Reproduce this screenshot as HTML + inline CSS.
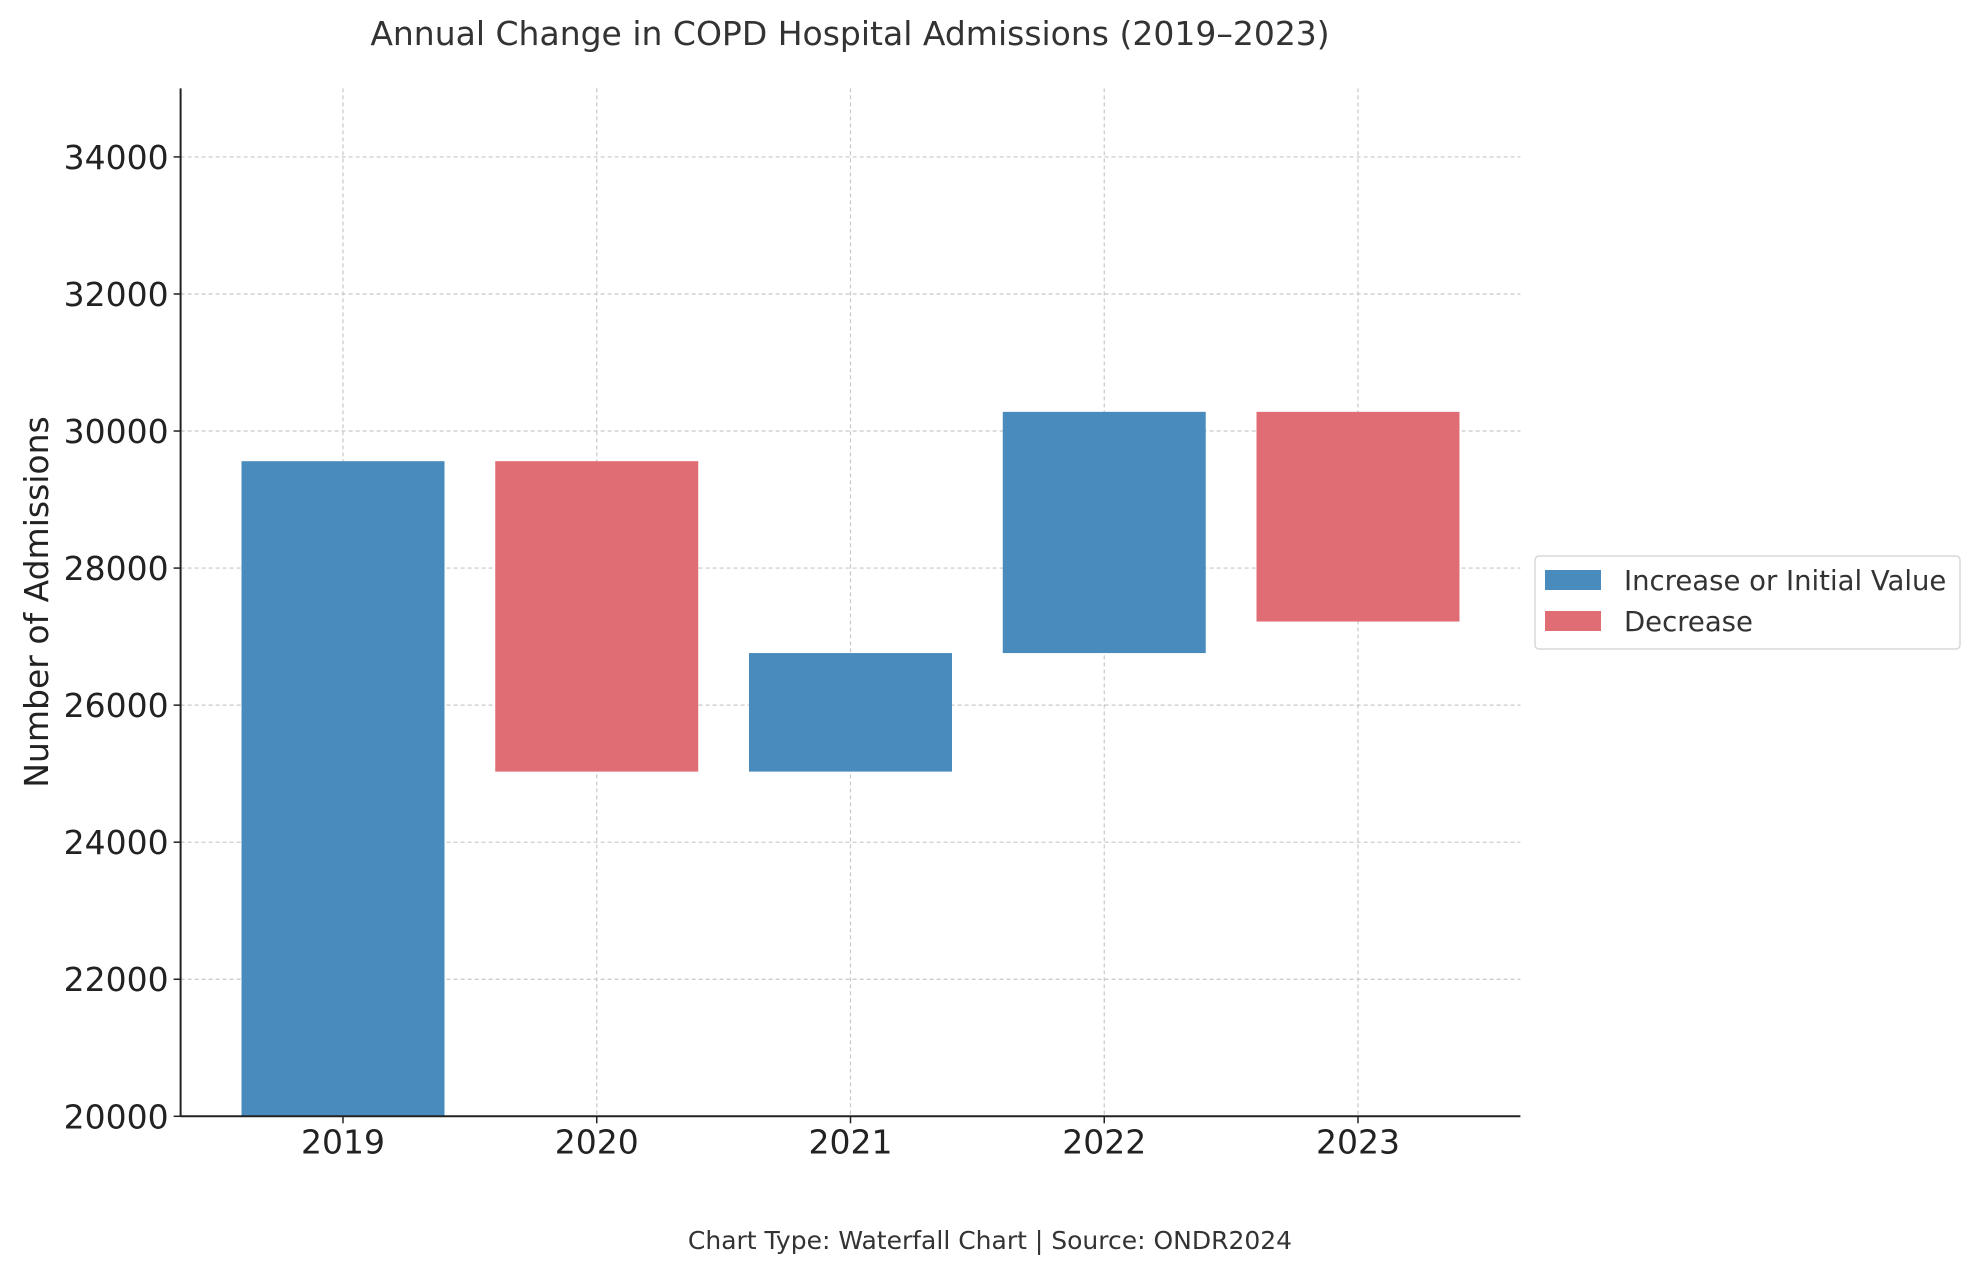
<!DOCTYPE html>
<html><head><meta charset="utf-8"><style>
html,body{margin:0;padding:0;background:#fff;}
svg{display:block;font-family:"DejaVu Sans","Liberation Sans",sans-serif;}
</style></head><body>
<svg id="chart" width="1980" height="1276" viewBox="0 0 1980 1276" xmlns="http://www.w3.org/2000/svg">
<text x="850" y="45" font-size="33" fill="#333" text-anchor="middle">Annual Change in COPD Hospital Admissions (2019–2023)</text>
<g id="grid"></g>
<g id="bars"></g>
<g id="axes"></g>
<text transform="translate(48,602) rotate(-90)" font-size="33" fill="#222" text-anchor="middle">Number of Admissions</text>
<g>
<rect x="1535" y="556" width="425" height="93" rx="4" fill="#fff" stroke="#d8d8d8" stroke-width="1.5"/>
<rect x="1545" y="570" width="56" height="20" fill="#4a8bbe"/>
<text x="1624" y="590" font-size="27.5" fill="#333">Increase or Initial Value</text>
<rect x="1545" y="611" width="56" height="20" fill="#e06c74"/>
<text x="1624" y="631" font-size="27.5" fill="#333">Decrease</text>
</g>
<text x="990" y="1249" font-size="25" fill="#333" text-anchor="middle">Chart Type: Waterfall Chart | Source: ONDR2024</text>
</svg>
<script>
const categories = ["2019","2020","2021","2022","2023"];
const changes = [29560, -4530, 1730, 3520, -3060];
const yTicks = [20000,22000,24000,26000,28000,30000,32000,34000];
const NS="http://www.w3.org/2000/svg";
const L=180.6,R=1520.4,T=88.4,B=1116.3;
const yMin=20000,yMax=35000,xMin=-0.64,xMax=4.64;
function yS(v){return B-(v-yMin)/(yMax-yMin)*(B-T);}
function xS(i){return L+(i-xMin)/(xMax-xMin)*(R-L);}
function mk(tag,attrs,parent){const e=document.createElementNS(NS,tag);for(const k in attrs)e.setAttribute(k,attrs[k]);parent.appendChild(e);return e;}
const grid=document.getElementById('grid'),bars=document.getElementById('bars'),axes=document.getElementById('axes');
yTicks.forEach(v=>{
  const g=mk('line',{x1:L,x2:R,y1:yS(v),y2:yS(v),stroke:'#c8c8c8','stroke-width':1.2,'stroke-dasharray':'4,3'},grid);
  
  
  const tk=mk('line',{x1:L-7,x2:L,y1:yS(v),y2:yS(v),stroke:'#222','stroke-width':1.5},axes);
  
  
  const t=mk('text',{x:L-12,y:yS(v)+12,'font-size':33,'text-anchor':'end',fill:'#222'},axes);
  t.textContent=v;
  
  
});
categories.forEach((c,i)=>{
  const g=mk('line',{x1:xS(i),x2:xS(i),y1:T,y2:B,stroke:'#c8c8c8','stroke-width':1.2,'stroke-dasharray':'4,3'},grid);
  
  
});
let cum=0;
categories.forEach((c,i)=>{
  const d=changes[i];
  const start=i===0?yMin:cum;
  const end=i===0?d:cum+d;
  cum=i===0?d:cum+d;
  const lo=Math.min(start,end),hi=Math.max(start,end);
  const w=0.8*(xS(1)-xS(0));
  const r=mk('rect',{x:xS(i)-w/2,y:yS(hi),width:w,height:yS(lo)-yS(hi),fill:d>=0?'#4a8bbe':'#e06c74'},bars);
  
  
  const tk=mk('line',{x1:xS(i),x2:xS(i),y1:B,y2:B+7,stroke:'#222','stroke-width':1.5},axes);
  
  
  const t=mk('text',{x:xS(i),y:B+37,'font-size':33,'text-anchor':'middle',fill:'#222'},axes);
  t.textContent=c;
  
  
});
const la=mk('line',{x1:L,x2:L,y1:T,y2:B,stroke:'#222','stroke-width':2},axes);


const ba=mk('line',{x1:L,x2:R,y1:B,y2:B,stroke:'#222','stroke-width':2},axes);


</script>
</body></html>
